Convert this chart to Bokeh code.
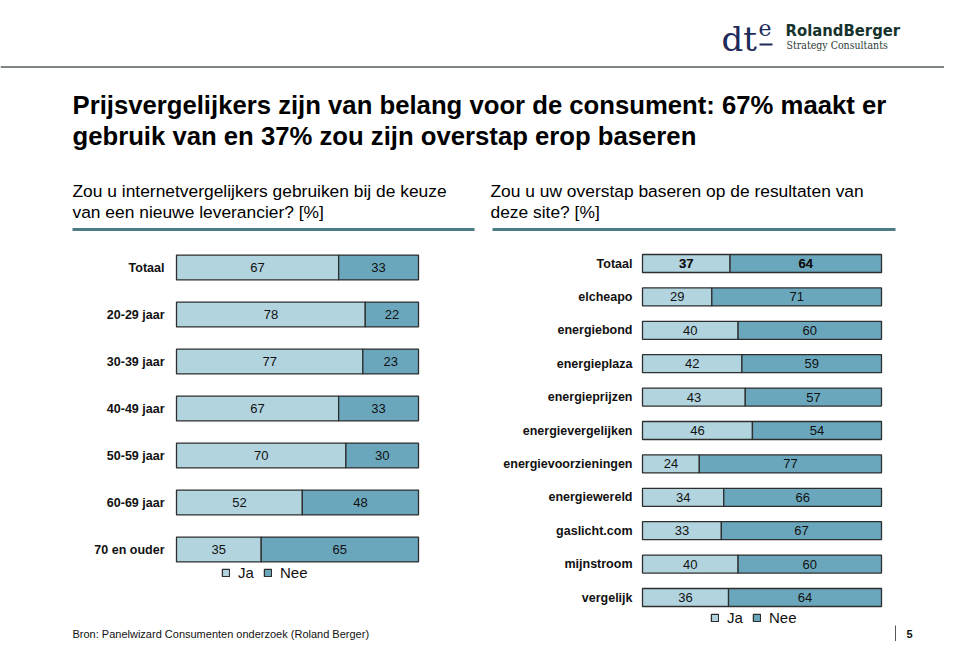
from bokeh.plotting import figure
from bokeh.models import Range1d, ColumnDataSource, Legend, LegendItem
from bokeh.core.properties import value
from bokeh.embed import file_html
from bokeh.resources import INLINE

# ---------------- data ----------------
title_lines = ["Prijsvergelijkers zijn van belang voor de consument: 67% maakt er",
               "gebruik van en 37% zou zijn overstap erop baseren"]
left_question = ["Zou u internetvergelijkers gebruiken bij de keuze",
                 "van een nieuwe leverancier? [%]"]
right_question = ["Zou u uw overstap baseren op de resultaten van",
                  "deze site? [%]"]

left_categories = ["Totaal", "20-29 jaar", "30-39 jaar", "40-49 jaar",
                   "50-59 jaar", "60-69 jaar", "70 en ouder"]
left_ja = [67, 78, 77, 67, 70, 52, 35]
left_nee = [33, 22, 23, 33, 30, 48, 65]

right_categories = ["Totaal", "elcheapo", "energiebond", "energieplaza",
                    "energieprijzen", "energievergelijken", "energievoorzieningen",
                    "energiewereld", "gaslicht.com", "mijnstroom", "vergelijk"]
right_ja = [37, 29, 40, 42, 43, 46, 24, 34, 33, 40, 36]
right_nee = [64, 71, 60, 59, 57, 54, 77, 66, 67, 60, 64]

series_names = ["Ja", "Nee"]
source_note = "Bron: Panelwizard Consumenten onderzoek (Roland Berger)"
page_number = "5"

# ---------------- style ----------------
JA_COLOR = "#b2d4df"
NEE_COLOR = "#6aa7bd"
EDGE = "#2e2e2e"
TEAL = "#4b7b85"
FONT_NAME = "Liberation Sans"
FONT = value(FONT_NAME)

W, H = 944, 641
p = figure(width=W, height=H, x_range=Range1d(0, W), y_range=Range1d(H, 0),
           output_backend="svg", toolbar_location=None, min_border=0,
           x_axis_location=None, y_axis_location=None, outline_line_color=None)
p.grid.visible = False
p.background_fill_color = "white"
p.border_fill_color = "white"


def lin_range(v0, s0, v1, s1, lo, hi):
    k = (v1 - v0) / (s1 - s0)
    return Range1d(start=v0 + (lo - s0) * k, end=v0 + (hi - s0) * k)


p.extra_x_ranges = {"lx": lin_range(0, 176, 100, 418, 0, W),
                    "rx": lin_range(0, 642, 100, 881, 0, W)}
p.extra_y_ranges = {"ly": lin_range(0, 267, 6, 549, H, 0),
                    "ry": lin_range(0, 263, 10, 597, H, 0)}


def make_source(cats, ja, nee):
    tot = [a + b for a, b in zip(ja, nee)]
    ja_end = [a / t * 100 for a, t in zip(ja, tot)]
    return ColumnDataSource(dict(
        y=list(range(len(cats))), label=cats,
        ja_end=ja_end,
        ja_mid=[e / 2 for e in ja_end],
        nee_mid=[(e + 100) / 2 for e in ja_end],
        ja_txt=[str(v) for v in ja], nee_txt=[str(v) for v in nee]))


def draw_chart(src, xr, yr, bar_h, label_off, legend_loc):
    r_ja = p.hbar(y="y", left=0, right="ja_end", height=bar_h, source=src,
                  fill_color=JA_COLOR, line_color=EDGE, line_width=1.3,
                  x_range_name=xr, y_range_name=yr)
    r_nee = p.hbar(y="y", left="ja_end", right=100, height=bar_h, source=src,
                   fill_color=NEE_COLOR, line_color=EDGE, line_width=1.3,
                   x_range_name=xr, y_range_name=yr)
    p.text(x=0, y="y", text="label", source=src, x_offset=label_off,
           text_align="right", text_baseline="middle", text_font=FONT,
           text_font_style="bold", text_font_size="12.5px", text_color="#111111",
           x_range_name=xr, y_range_name=yr)
    for col, mid in (("ja_txt", "ja_mid"), ("nee_txt", "nee_mid")):
        p.text(x=mid, y="y", text=col, source=src,
               text_align="center", text_baseline="middle", text_font=FONT,
               text_font_size="13px", text_color="#111111",
               x_range_name=xr, y_range_name=yr)
    leg = Legend(items=[LegendItem(label=series_names[0], renderers=[r_ja]),
                        LegendItem(label=series_names[1], renderers=[r_nee])],
                 orientation="horizontal", location=legend_loc,
                 label_text_font=FONT_NAME, label_text_font_size="15px",
                 label_text_color="#111111",
                 glyph_width=9, glyph_height=9, label_standoff=8, spacing=5,
                 padding=0, margin=0, label_height=16,
                 border_line_color=None, background_fill_alpha=0)
    p.add_layout(leg, "center")
    return r_ja, r_nee


left_src = make_source(left_categories, left_ja, left_nee)
right_src = make_source(right_categories, right_ja, right_nee)
draw_chart(left_src, "lx", "ly", 0.53, -12, (221, 60))
draw_chart(right_src, "rx", "ry", 0.54, -10, (710, 15))

# bold values for right "Totaal"
p.text(x=[right_src.data["ja_mid"][0], right_src.data["nee_mid"][0]], y=[0, 0],
       text=[str(right_ja[0]), str(right_nee[0])],
       text_align="center", text_baseline="middle", text_font=FONT,
       text_font_style="bold", text_font_size="13px", text_color="#111111",
       x_range_name="rx", y_range_name="ry")

# ---------------- header ----------------
p.segment(x0=[0], y0=[66.5], x1=[W], y1=[66.5], line_color="#7d8584", line_width=2)
p.text(x=[721], y=[38], text=["dt"], text_font=value("DejaVu Serif"),
       text_font_size="34px", text_color="#1d2a5a", text_baseline="middle")
p.text(x=[758], y=[27], text=["e"], text_font=value("DejaVu Serif"),
       text_font_size="22px", text_color="#1d2a5a", text_baseline="middle")
p.segment(x0=[759], y0=[44], x1=[772], y1=[44], line_color="#1d2a5a", line_width=2)
p.text(x=[785], y=[30], text=["RolandBerger"],
       text_font=value("'Liberation Sans Narrow', 'DejaVu Sans Condensed', sans-serif"),
       text_font_style="bold", text_font_size="16.5px", text_color="#16342c",
       text_baseline="middle")
p.text(x=[786], y=[44], text=["Strategy Consultants"],
       text_font=value("'DejaVu Serif Condensed', 'DejaVu Serif', serif"),
       text_font_size="10.5px", text_color="#2b3b36", text_baseline="middle")

p.text(x=[72, 72], y=[104, 135], text=title_lines, text_font=FONT,
       text_font_style="bold", text_font_size="25.7px", text_color="black",
       text_baseline="middle")
p.text(x=[72, 72], y=[190, 211], text=left_question, text_font=FONT,
       text_font_size="17.4px", text_color="black", text_baseline="middle")
p.text(x=[490, 490], y=[190, 211], text=right_question, text_font=FONT,
       text_font_size="17.4px", text_color="black", text_baseline="middle")
p.segment(x0=[72, 492], y0=[229, 229], x1=[474, 895], y1=[229, 229],
          line_color=TEAL, line_width=3)

# ---------------- footer ----------------
p.text(x=[72], y=[633], text=[source_note], text_font=FONT,
       text_font_size="11px", text_color="#111111", text_baseline="middle")
p.segment(x0=[895], y0=[625], x1=[895], y1=[641], line_color="#555555", line_width=1)
p.text(x=[906], y=[633], text=[page_number], text_font=FONT, text_font_style="bold",
       text_font_size="11px", text_color="#111111", text_baseline="middle")

open("out.html", "w").write(file_html(p, INLINE))
